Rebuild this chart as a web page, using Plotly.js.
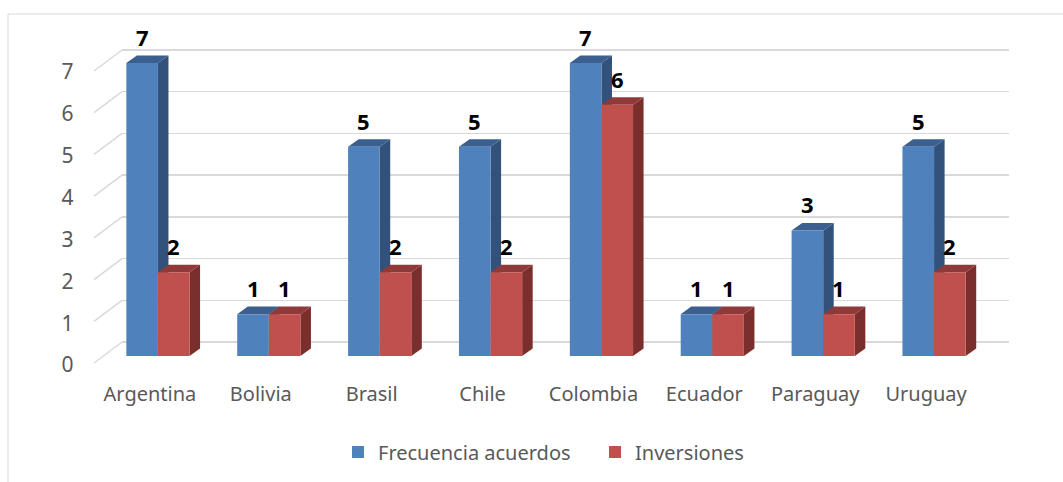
<!DOCTYPE html>
<html>
<head>
<meta charset="utf-8">
<script src="https://cdn.plot.ly/plotly-3.0.1.min.js"></script>
<style>
  html, body { margin: 0; padding: 0; background: #ffffff; }
  #chart { width: 1063px; height: 482px; }
</style>
</head>
<body>
<div id="chart"></div>
<script>
// ---- data ----
const categories = ['Argentina', 'Bolivia', 'Brasil', 'Chile', 'Colombia', 'Ecuador', 'Paraguay', 'Uruguay'];
const frecuencia = [7, 1, 5, 5, 7, 1, 3, 5];
const inversiones = [2, 1, 2, 2, 6, 1, 1, 2];
const seriesNames = ['Frecuencia acuerdos', 'Inversiones'];
const yTicks = [0, 1, 2, 3, 4, 5, 6, 7];

// ---- style ----
const W = 1063, H = 482;
const FONT = '"Noto Sans", "Open Sans", sans-serif';
const GRAY = '#595959';
const GRID = '#d9d9d9';
const frontColors = ['#4f81bd', '#c0504d'];
const topColors = ['#3b5f8f', '#8f3a38'];
const sideColors = ['#32527c', '#7b2f2d'];

const BARGAP = 0.43;
const barW = (1 - BARGAP) / 2;          // width of each bar in category units
const DX = 0.095;                       // depth offset in x (category units)
const DY = 0.18;                        // depth offset in y (value units)

const idx = categories.map((c, i) => i);

const px = v => v / W;
const py = v => (H - v) / H;

const traces = [
  {
    type: 'bar', name: seriesNames[0], x: idx, y: frecuencia,
    xaxis: 'x2', yaxis: 'y2',
    marker: { color: frontColors[0], line: { width: 0 } },
    hoverinfo: 'skip'
  },
  {
    type: 'bar', name: seriesNames[1], x: idx, y: inversiones,
    xaxis: 'x2', yaxis: 'y2',
    marker: { color: frontColors[1], line: { width: 0 } },
    hoverinfo: 'skip'
  }
];

const shapes = [];
// chart border
shapes.push({
  type: 'rect', xref: 'paper', yref: 'paper',
  x0: px(8), x1: 1.05, y0: py(14), y1: -0.05,
  line: { color: GRID, width: 1 }, fillcolor: 'rgba(0,0,0,0)', layer: 'below'
});
// side-wall diagonals for each gridline
yTicks.forEach(v => {
  shapes.push({
    type: 'line', xref: 'paper', yref: 'y', ysizemode: 'pixel', yanchor: v,
    x0: px(122), x1: px(94), y0: 0, y1: -21,
    line: { color: GRID, width: 1.5 }, layer: 'below'
  });
});
// 3D faces of the bars (computed from the data)
const series = [frecuencia, inversiones];
idx.forEach(i => {
  series.forEach((vals, s) => {
    const v = vals[i];
    const xl = i - barW + s * barW;
    const xr = xl + barW;
    shapes.push({
      type: 'path', xref: 'x2', yref: 'y2', layer: 'below',
      path: `M${xr},0 L${xr},${v} L${xr + DX},${v + DY} L${xr + DX},${DY} Z`,
      fillcolor: sideColors[s], line: { width: 0 }
    });
    shapes.push({
      type: 'path', xref: 'x2', yref: 'y2', layer: 'below',
      path: `M${xl},${v} L${xl + DX},${v + DY} L${xr + DX},${v + DY} L${xr},${v} Z`,
      fillcolor: topColors[s], line: { width: 0 }
    });
  });
});

// data labels
const annotations = [];
idx.forEach(i => {
  series.forEach((vals, s) => {
    annotations.push({
      xref: 'x2', yref: 'y2', x: i - barW / 2 + s * barW, y: vals[i],
      text: String(vals[i]), showarrow: false,
      xanchor: 'center', yanchor: 'middle', yshift: 26,
      font: { family: FONT, size: 22, color: '#000000', weight: 'bold' }
    });
  });
});

const layout = {
  width: W, height: H,
  margin: { l: 0, r: 0, t: 0, b: 0 },
  paper_bgcolor: '#ffffff',
  plot_bgcolor: 'rgba(0,0,0,0)',
  font: { family: FONT, size: 20, color: GRAY },
  barmode: 'group', bargap: BARGAP, bargroupgap: 0,
  showlegend: true,
  legend: {
    orientation: 'h', x: px(338), xanchor: 'left', y: py(452), yanchor: 'middle',
    entrywidth: 212, entrywidthmode: 'pixels',
    font: { family: FONT, size: 20, color: GRAY }, bgcolor: 'rgba(0,0,0,0)'
  },
  xaxis: {
    domain: [px(122), px(1009)], range: [0, 1], anchor: 'y',
    showgrid: false, zeroline: false, showline: false, showticklabels: false, ticks: ''
  },
  yaxis: {
    domain: [py(342 + 0.7 * 41.714), py(342 - 7.6 * 41.714)], range: [-0.7, 7.6], anchor: 'x',
    tickmode: 'array', tickvals: yTicks, showticklabels: false, ticks: '',
    showgrid: true, gridcolor: GRID, gridwidth: 1.5, zeroline: false, showline: false
  },
  xaxis2: {
    domain: [px(102.5), px(989.5)], range: [-0.5, 7.5], anchor: 'y2',
    tickmode: 'array', tickvals: idx, ticktext: categories,
    showgrid: false, zeroline: false, showline: false, ticks: '',
    tickfont: { family: FONT, size: 20, color: GRAY },
    ticklabelstandoff: 24, ticklabelshift: -8
  },
  yaxis2: {
    domain: [py(356), py(356 - 7.5 * 41.857)], range: [0, 7.5], anchor: 'x2',
    tickmode: 'array', tickvals: yTicks,
    showgrid: false, zeroline: false, showline: false, ticks: '',
    tickfont: { family: FONT, size: 21, color: GRAY },
    ticklabelstandoff: 28, ticklabelshift: 9
  },
  shapes: shapes,
  annotations: annotations
};

Plotly.newPlot('chart', traces, layout, { staticPlot: true, displayModeBar: false });
</script>
</body>
</html>
